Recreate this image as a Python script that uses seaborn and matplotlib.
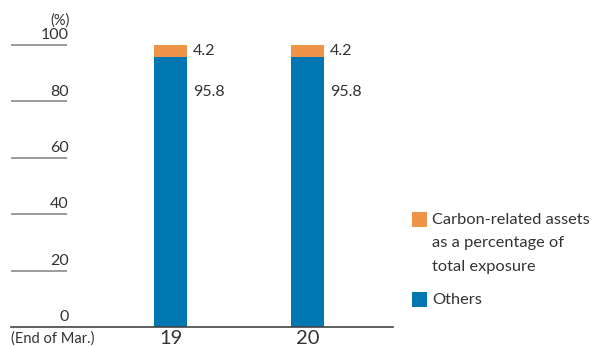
import matplotlib
matplotlib.use("Agg")
import matplotlib.pyplot as plt
import matplotlib.transforms as mtransforms
from matplotlib.patches import Rectangle
import seaborn as sns
import pandas as pd

sns.set_theme(style="white")
plt.rcParams["font.family"] = ["Lato", "DejaVu Sans"]

# Data
years = ["19", "20"]
others = [95.8, 95.8]
carbon = [4.2, 4.2]
y_ticks = [0, 20, 40, 60, 80, 100]
legend_labels = ["Carbon-related assets\nas a percentage of\ntotal exposure", "Others"]

BLUE = "#0077B1"
ORANGE = "#EE9347"
TEXT = "#333333"
GRID = "#8a8a8a"

df = pd.DataFrame({"year": years, "others": others, "carbon": carbon})
df["total"] = df["others"] + df["carbon"]

W, H = 615, 347
fig = plt.figure(figsize=(W / 100, H / 100), dpi=100)

# axes placed in pixel units: x 11..393, y 45 (100%) .. 327 (0%)
x0, x1 = 11, 393
ytop, ybot = 45, 327
ax = fig.add_axes([x0 / W, 1 - ybot / H, (x1 - x0) / W, (ybot - ytop) / H])

bar_w = 33 / 137
sns.barplot(data=df, x="year", y="total", color=ORANGE, width=bar_w,
            saturation=1, ax=ax, edgecolor="none", linewidth=0)
sns.barplot(data=df, x="year", y="others", color=BLUE, width=bar_w,
            saturation=1, ax=ax, edgecolor="none", linewidth=0)

ax.set_xlim(-(170.5 - x0) / 137, 1 + (x1 - 307.5) / 137)
ax.set_ylim(0, 100)

for s in ax.spines.values():
    s.set_visible(False)
ax.spines["bottom"].set_visible(True)
ax.spines["bottom"].set_color("#444444")
ax.spines["bottom"].set_linewidth(1.2)
ax.set_yticks([])
ax.set_xlabel("")
ax.set_ylabel("")
ax.tick_params(axis="x", length=0, pad=2, labelsize=14.5, colors=TEXT)

# short gridline stubs with labels sitting on them
blend = mtransforms.blended_transform_factory(ax.transAxes, ax.transData)
stub_end = (67 - x0) / (x1 - x0)
for v in y_ticks:
    if v > 0:
        ax.plot([0, stub_end], [v, v], transform=blend, color=GRID,
                lw=1.2, clip_on=False, solid_capstyle="butt")
    ax.text(stub_end + 0.004, v + 1.0, str(v), transform=blend, ha="right",
            va="bottom", fontsize=11.5, color=TEXT)
ax.text(stub_end + 0.006, 106.2, "(%)", transform=blend, ha="right",
        va="bottom", fontsize=10.5, color=TEXT, clip_on=False)

# value labels
for i, row in df.iterrows():
    lx = i + (193 - 170.5) / 137
    ax.text(lx, row["others"] + row["carbon"] / 2, f"{row['carbon']:.1f}",
            ha="left", va="center", fontsize=11.5, color=TEXT)
    ax.text(lx, row["others"] - 12.5, f"{row['others']:.1f}",
            ha="left", va="center", fontsize=11.5, color=TEXT)

fig.text(11 / W, 1 - 339 / H, "(End of Mar.)", ha="left", va="center",
         fontsize=10.5, color=TEXT)

# legend: swatch next to the first line of each label
for color, label, ytop_px in zip([ORANGE, BLUE], legend_labels, [212, 292]):
    fig.add_artist(Rectangle((412 / W, 1 - (ytop_px + 15) / H), 15 / W, 15 / H,
                             transform=fig.transFigure, facecolor=color,
                             edgecolor="none"))
    fig.text(432 / W, 1 - (ytop_px + 1) / H, label, ha="left", va="top",
             fontsize=11.8, color=TEXT, linespacing=1.85)

fig.savefig("out.png", dpi=100)
